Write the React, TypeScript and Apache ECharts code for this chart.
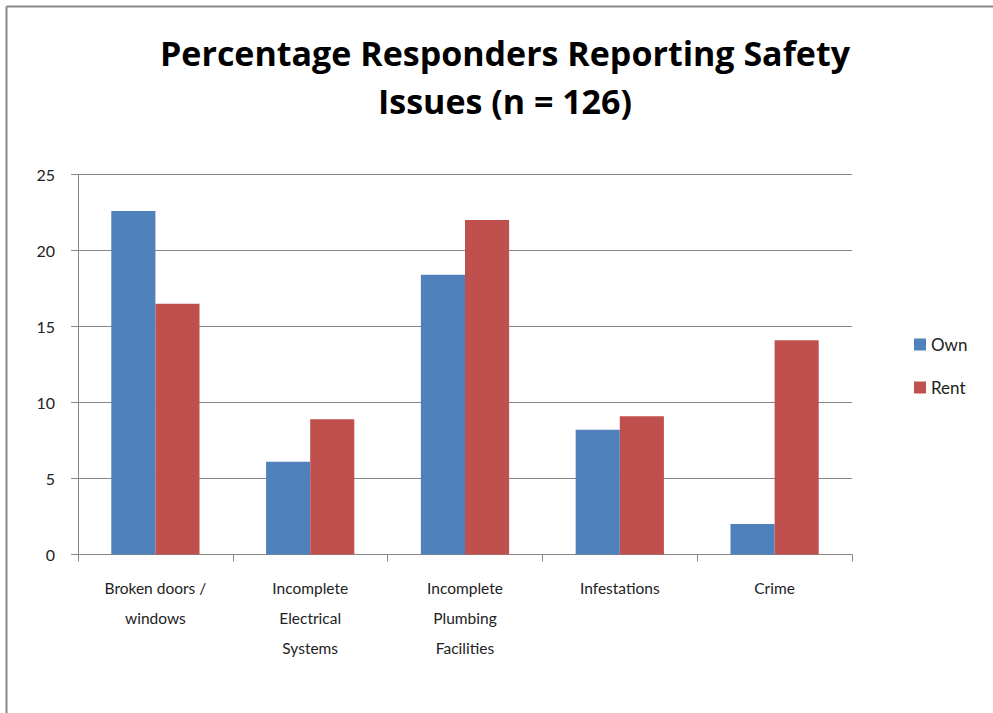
import React, { useEffect, useRef } from "react";
import * as echarts from "echarts";

// Safety issues reported, split by tenure (percent of responders)
const categories = [
  "Broken doors / windows",
  "Incomplete Electrical Systems",
  "Incomplete Plumbing Facilities",
  "Infestations",
  "Crime",
];
const tickLabels = [
  "Broken doors /\nwindows",
  "Incomplete\nElectrical\nSystems",
  "Incomplete\nPlumbing\nFacilities",
  "Infestations",
  "Crime",
];
const ownValues = [22.6, 6.1, 18.4, 8.2, 2.0];
const rentValues = [16.5, 8.9, 22.0, 9.1, 14.1];
const seriesNames = ["Own", "Rent"];

const FONT = "Lato, 'Open Sans', sans-serif";
const TITLE_FONT = "'Open Sans', Lato, sans-serif";

export default function App() {
  const ref = useRef<HTMLDivElement>(null);

  useEffect(() => {
    if (!ref.current) return;
    const chart = echarts.init(ref.current, null, { renderer: "svg" });
    chart.setOption({
      animation: false,
      backgroundColor: "#ffffff",
      title: {
        text: "Percentage Responders Reporting Safety\nIssues (n = 126)",
        left: 500,
        textAlign: "center",
        top: 24,
        textStyle: {
          fontFamily: TITLE_FONT,
          fontWeight: "bold",
          fontSize: 34,
          lineHeight: 48,
          color: "#000000",
        },
      },
      legend: {
        orient: "vertical",
        left: 909,
        top: 331,
        itemWidth: 12,
        itemHeight: 12,
        itemGap: 26,
        icon: "rect",
        data: seriesNames,
        textStyle: { fontFamily: FONT, fontSize: 17, color: "#222222" },
      },
      grid: { left: 78, right: 141, top: 174.5, bottom: 158.5, containLabel: false },
      xAxis: {
        type: "category",
        data: categories,
        axisLine: { show: true, lineStyle: { color: "#868686", width: 1 } },
        axisTick: { show: true, length: 7, alignWithLabel: false, lineStyle: { color: "#868686" } },
        axisLabel: {
          interval: 0,
          margin: 18,
          fontFamily: FONT,
          fontSize: 15.5,
          lineHeight: 30,
          color: "#222222",
          formatter: (_v: string, i: number) => tickLabels[i],
        },
        splitLine: { show: false },
      },
      yAxis: {
        type: "value",
        min: 0,
        max: 25,
        interval: 5,
        axisLine: { show: true, lineStyle: { color: "#868686", width: 1 } },
        axisTick: { show: true, length: 7, lineStyle: { color: "#868686" } },
        axisLabel: { margin: 23, fontFamily: FONT, fontSize: 16, color: "#222222" },
        splitLine: { show: true, lineStyle: { color: "#868686", width: 1.2 } },
      },
      series: [
        {
          name: seriesNames[0],
          type: "bar",
          data: ownValues,
          barGap: "0%",
          barCategoryGap: "43%",
          itemStyle: { color: "#4F81BD" },
        },
        {
          name: seriesNames[1],
          type: "bar",
          data: rentValues,
          barGap: "0%",
          barCategoryGap: "43%",
          itemStyle: { color: "#C0504D" },
        },
      ],
      graphic: [
        {
          type: "line",
          shape: { x1: 6.5, y1: 6.5, x2: 993, y2: 6.5 },
          style: { stroke: "#8a8a8a", lineWidth: 2 },
        },
        {
          type: "line",
          shape: { x1: 6.5, y1: 6.5, x2: 6.5, y2: 713 },
          style: { stroke: "#8a8a8a", lineWidth: 2 },
        },
      ],
    });
    return () => chart.dispose();
  }, []);

  return (
    <div
      ref={ref}
      style={{ position: "fixed", left: 0, top: 0, width: 993, height: 713, background: "#fff" }}
    />
  );
}
